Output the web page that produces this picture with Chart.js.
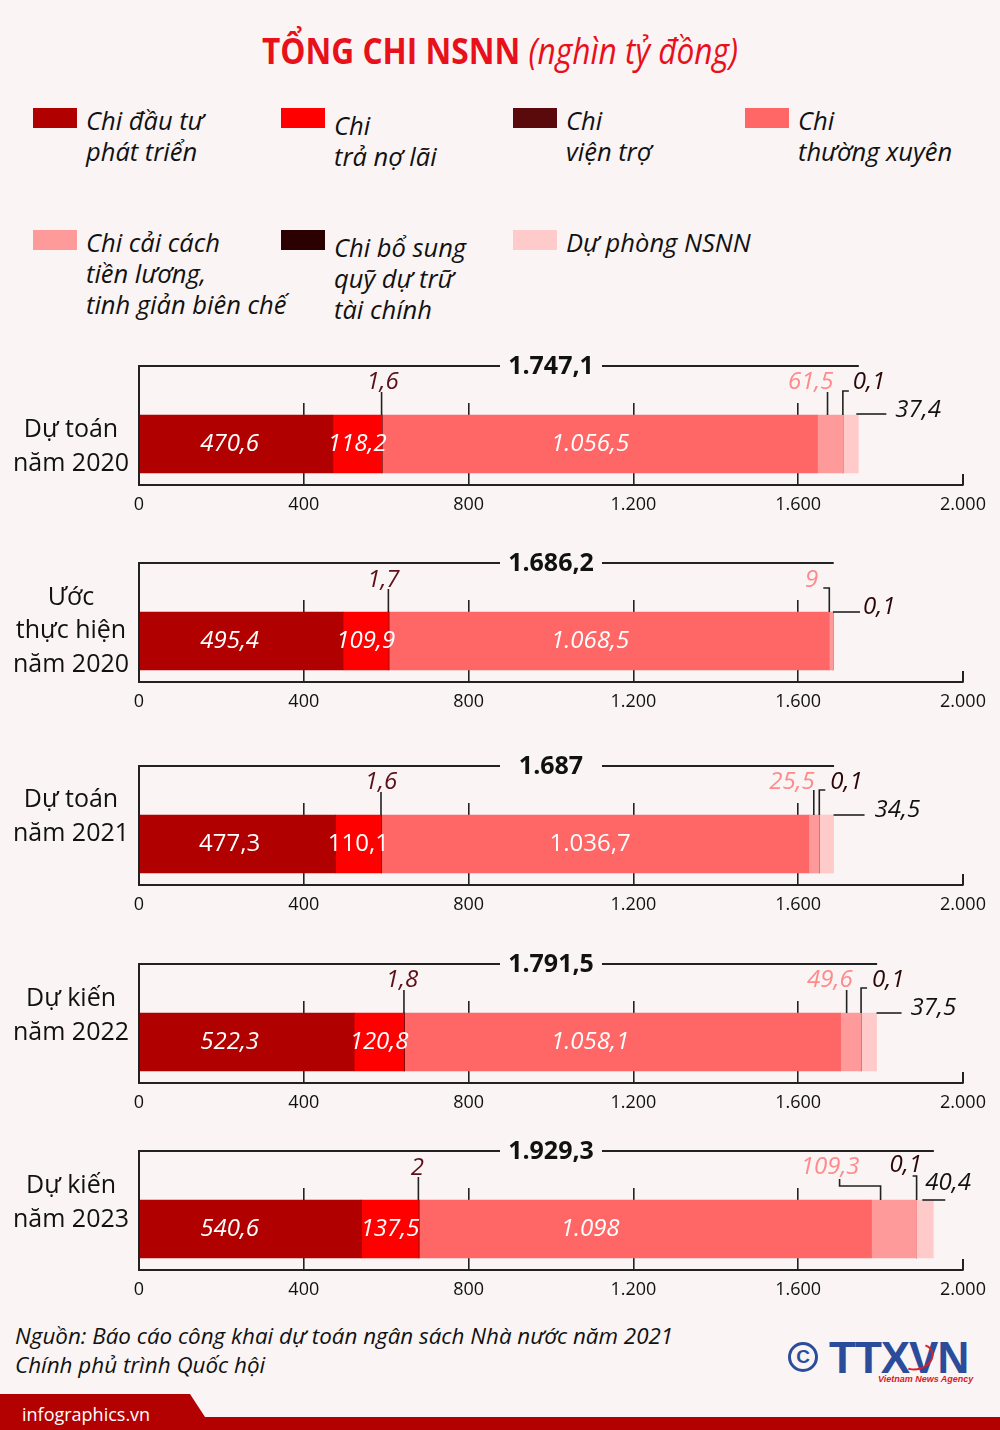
<!DOCTYPE html>
<html>
<head>
<meta charset="utf-8">
<script src="https://cdn.jsdelivr.net/npm/chart.js@4.4.1/dist/chart.umd.min.js"></script>
<style>
  html,body{margin:0;padding:0;}
  body{width:1000px;height:1430px;background:#faf4f4;position:relative;overflow:hidden;font-family:"Open Sans",sans-serif;color:#111;}
  .abs{position:absolute;}
  .title{left:0;top:25px;width:1000px;text-align:center;font-size:36px;line-height:52px;color:#e8101a;transform:scaleX(0.88);transform-origin:500px 50%;white-space:nowrap;}
  .title b{font-weight:700;}
  .title i{font-weight:400;}
  .sw{width:44px;height:20px;}
  .lg{font-style:italic;font-size:25.5px;line-height:31px;white-space:nowrap;}
  canvas{position:absolute;left:0;}
  .src{left:15px;top:1321px;font-style:italic;font-size:22.4px;line-height:29px;white-space:nowrap;}
</style>
</head>
<body>
<div class="abs title"><b>TỔNG CHI NSNN</b> <i>(nghìn tỷ đồng)</i></div>
<div id="legend"></div>
<div id="panels"></div>
<div class="abs src">Nguồn: Báo cáo công khai dự toán ngân sách Nhà nước năm 2021<br>Chính phủ trình Quốc hội</div>

<!-- logo -->
<div class="abs" style="left:788px;top:1342px;width:24px;height:24px;border:3px solid #2b4c9b;border-radius:50%;text-align:center;font:700 19px/24px 'Liberation Sans',sans-serif;color:#2b4c9b;">C</div>
<div class="abs" style="left:829px;top:1332px;font:700 44px/52px 'Liberation Sans',sans-serif;color:#2b4c9b;letter-spacing:-1px;">TTXVN</div>
<div class="abs" style="left:900px;top:1344px;width:30px;height:22px;border:2px solid #d8202a;border-radius:50%;border-left-color:transparent;border-top-color:transparent;transform:rotate(-20deg);"></div>
<div class="abs" style="left:878px;top:1373px;font:italic 700 9px/12px 'Liberation Sans',sans-serif;color:#d8202a;">Vietnam News Agency</div>

<!-- bottom band -->
<svg class="abs" style="left:0;top:1390px" width="1000" height="40">
  <polygon points="0,4 190,4 205,27 1000,27 1000,40 0,40" fill="#b30000"/>
</svg>
<div class="abs" style="left:22px;top:1401px;font-size:18px;line-height:26px;color:#fff;">infographics.vn</div>

<script>
// ---------------- DATA ----------------
const categories = [["Dự toán","năm 2020"],["Ước","thực hiện","năm 2020"],["Dự toán","năm 2021"],["Dự kiến","năm 2022"],["Dự kiến","năm 2023"]];
const seriesNames = [["Chi đầu tư","phát triển"],["Chi","trả nợ lãi"],["Chi","viện trợ"],["Chi","thường xuyên"],["Chi cải cách","tiền lương,","tinh giản biên chế"],["Chi bổ sung","quỹ dự trữ","tài chính"],["Dự phòng NSNN"]];
const chiDauTu       = [470.6, 495.4, 477.3, 522.3, 540.6];
const chiTraNoLai    = [118.2, 109.9, 110.1, 120.8, 137.5];
const chiVienTro     = [1.6, 1.7, 1.6, 1.8, 2];
const chiThuongXuyen = [1056.5, 1068.5, 1036.7, 1058.1, 1098];
const chiCaiCach     = [61.5, 9, 25.5, 49.6, 109.3];
const chiBoSung      = [0.1, 0.1, 0.1, 0.1, 0.1];
const duPhong        = [37.4, null, 34.5, 37.5, 40.4];
const totals         = [1747.1, 1686.2, 1687, 1791.5, 1929.3];
const xMin = 0, xMax = 2000, xStep = 400;

// ---------------- STYLE / LAYOUT ----------------
const seriesData = [chiDauTu, chiTraNoLai, chiVienTro, chiThuongXuyen, chiCaiCach, chiBoSung, duPhong];
const colors = ["#b10000","#ff0000","#5a0a0a","#ff6666","#ff9a9a","#2b0000","#ffcaca"];
const panelTops = [366, 563, 766, 964, 1151];
const italicBarLabels = [true, true, false, true, true];
const catLabelCenter = [[71,81],[71,68],[71,51],[71,52],[71,52]];
// callout layouts (pixel offsets relative to segment boundary and bar top)
const layoutVT = [{dx:1,ly:-33},{dx:-5,ly:-32},{dx:0,ly:-33},{dx:-2,ly:-33},{dx:-1,ly:-32}];
const layoutCC = [
  {right:16, ly:-33, path:[[10,-23],[10,0]]},
  {right:-11, ly:-32, path:[[-6,-24],[0,-24],[0,0]]},
  {right:6, ly:-33, path:[[5,-25],[5,0]]},
  {right:12, ly:-33, path:[[6,-23],[6,0]]},
  {right:-12, ly:-33, path:[[-32,-21],[-32,-14],[9,-14],[9,0]]}
];
const layoutBS = [
  {left:10, ly:-33, path:[[0,0],[0,-24],[6,-24]]},
  {left:30, ly:-5, path:[[0,0],[27,0]]},
  {left:11, ly:-33, path:[[0,0],[0,-25],[6,-25]]},
  {left:11, ly:-33, path:[[0,0],[0,-25],[6,-25]]},
  {left:-27, ly:-35, path:[[0,0],[0,-24],[-4,-24]]}
];
const layoutDP = [
  {left:37, ly:-5, path:[[-2,-1],[28,-1]]},
  null,
  {left:41, ly:-5, path:[[0,0],[31,0]]},
  {left:34, ly:-5, path:[[0,0],[25,0]]},
  {left:-8, ly:-17, path:[[-11,0],[12,0]]}
];
const legendPos = [[33,108,0],[281,108,5],[513,108,0],[745,108,0],[33,230,0],[281,230,5],[513,230,0]];

function fmt(v){
  let s = (Math.round(v*10)/10).toFixed(1);
  let [i,d] = s.split('.');
  i = i.replace(/\B(?=(\d{3})+(?!\d))/g,'.');
  return d === '0' ? i : i + ',' + d;
}

// ---------------- LEGEND ----------------
const lg = document.getElementById('legend');
seriesNames.forEach((lines,i)=>{
  const [x,y,off] = legendPos[i];
  const sw = document.createElement('div');
  sw.className='abs sw'; sw.style.left=x+'px'; sw.style.top=y+'px'; sw.style.background=colors[i];
  lg.appendChild(sw);
  const t = document.createElement('div');
  t.className='abs lg'; t.style.left=(x+53)+'px'; t.style.top=(y-3.5+off)+'px';
  t.innerHTML = lines.join('<br>');
  lg.appendChild(t);
});

// ---------------- PANELS ----------------
const CANVAS_H = 188, TOP_OFF = 30;
const annotate = {
  id:'annotate',
  afterDraw(chart){
    const p = chart.config.options.panelIndex;
    const ctx = chart.ctx, xs = chart.scales.x, ca = chart.chartArea;
    const px = v => xs.getPixelForValue(v);
    const ty = TOP_OFF;               // total line y
    const bt = ca.top + 12;           // bar top
    const bm = ca.top + 41;           // bar middle
    const vals = seriesData.map(s => s[p] || 0);
    const cum = [0]; vals.forEach(v => cum.push(cum[cum.length-1] + v));
    ctx.save();
    ctx.strokeStyle = '#222'; ctx.lineWidth = 2; ctx.lineCap='butt';
    // left bracket + total line
    ctx.beginPath();
    ctx.moveTo(px(0), ca.bottom); ctx.lineTo(px(0), ty); ctx.lineTo(px(totals[p]), ty);
    ctx.stroke();
    // short end tick
    ctx.beginPath(); ctx.moveTo(px(xMax), ca.bottom); ctx.lineTo(px(xMax), ca.bottom-11); ctx.stroke();
    // total label with gap
    const cx = (px(xMin)+px(xMax))/2;
    ctx.fillStyle = '#faf4f4'; ctx.fillRect(cx-51, ty-6, 102, 12);
    ctx.fillStyle = '#111'; ctx.font = '700 25px "Open Sans"';
    ctx.textAlign='center'; ctx.textBaseline='middle';
    ctx.fillText(fmt(totals[p]), cx, ty+1);

    // bar labels
    ctx.fillStyle = '#fff';
    ctx.font = (italicBarLabels[p] ? 'italic ' : '') + '400 24px "Open Sans"';
    ctx.fillText(fmt(vals[0]), px(220), bm);
    ctx.fillText(fmt(vals[1]), (px(cum[1])+px(cum[2]))/2, bm);
    ctx.fillText(fmt(vals[3]), px(1095), bm);

    const path = (x0, pts) => {
      ctx.beginPath();
      pts.forEach((pt,k)=>{ const X = x0+pt[0], Y = bt+pt[1]; k ? ctx.lineTo(X,Y) : ctx.moveTo(X,Y); });
      ctx.stroke();
    };
    ctx.font = 'italic 400 24px "Open Sans"';
    // vien tro
    const xv = px(cum[2]);
    ctx.strokeStyle='#222'; ctx.lineWidth=1.6;
    ctx.beginPath(); ctx.moveTo(xv, bt-23); ctx.lineTo(xv, bt); ctx.stroke();
    ctx.fillStyle = '#5c1018'; ctx.textAlign='center';
    ctx.fillText(fmt(vals[2]), xv+layoutVT[p].dx, bt+layoutVT[p].ly);
    // cai cach
    const xc = px(cum[4]), L = layoutCC[p];
    path(xc, L.path);
    ctx.fillStyle = '#ff8a8a'; ctx.textAlign='right';
    ctx.fillText(fmt(vals[4]), xc+L.right, bt+L.ly);
    // bo sung
    const xb = px(cum[5]), B = layoutBS[p];
    path(xb, B.path);
    ctx.fillStyle = '#2a0606'; ctx.textAlign='left';
    ctx.fillText(fmt(vals[5]), xb+B.left, bt+B.ly);
    // du phong
    if (layoutDP[p] && seriesData[6][p] != null){
      const xd = px(cum[7]), D = layoutDP[p];
      path(xd, D.path);
      ctx.fillStyle = '#111'; ctx.textAlign='left';
      ctx.fillText(fmt(vals[6]), xd+D.left, bt+D.ly);
    }
    // category label
    ctx.fillStyle = '#111'; ctx.textAlign='center';
    ctx.font = '400 25px "Open Sans"';
    const lines = categories[p], lh = 33.5;
    const [lx, lyc] = catLabelCenter[p];
    lines.forEach((s,k)=>{
      ctx.fillText(s, lx, TOP_OFF + lyc + (k-(lines.length-1)/2)*lh);
    });
    ctx.restore();
  }
};

const host = document.getElementById('panels');
panelTops.forEach((top,p)=>{
  const cv = document.createElement('canvas');
  cv.width = 1000; cv.height = CANVAS_H;
  cv.style.top = (top-TOP_OFF)+'px';
  cv.style.width='1000px'; cv.style.height=CANVAS_H+'px';
  host.appendChild(cv);
  new Chart(cv, {
    type:'bar',
    data:{
      labels:[categories[p].join(' ')],
      datasets: seriesData.map((s,i)=>({
        label: seriesNames[i].join(' '),
        data:[s[p]],
        backgroundColor: colors[i],
        borderWidth:0,
        barThickness:58
      }))
    },
    options:{
      panelIndex:p,
      indexAxis:'y',
      responsive:false,
      animation:false,
      events:[],
      layout:{padding:{left:139, right:37, top:TOP_OFF+37, bottom:0}},
      plugins:{legend:{display:false}, tooltip:{enabled:false}},
      scales:{
        y:{stacked:true, display:false},
        x:{
          stacked:true, min:xMin, max:xMax,
          afterFit(axis){ axis.height = CANVAS_H - (TOP_OFF + 119); },
          ticks:{stepSize:xStep, color:'#111', padding:9, maxRotation:0,
                 font:{family:'"Open Sans"', size:18}, callback:v=>fmt(v)},
          grid:{drawTicks:false, lineWidth:1.6,
                color:c => (c.tick && (c.tick.value===xMin || c.tick.value===xMax)) ? 'rgba(0,0,0,0)' : '#222'},
          border:{display:true, color:'#222', width:2}
        }
      }
    },
    plugins:[annotate]
  });
});
</script>
</body>
</html>
